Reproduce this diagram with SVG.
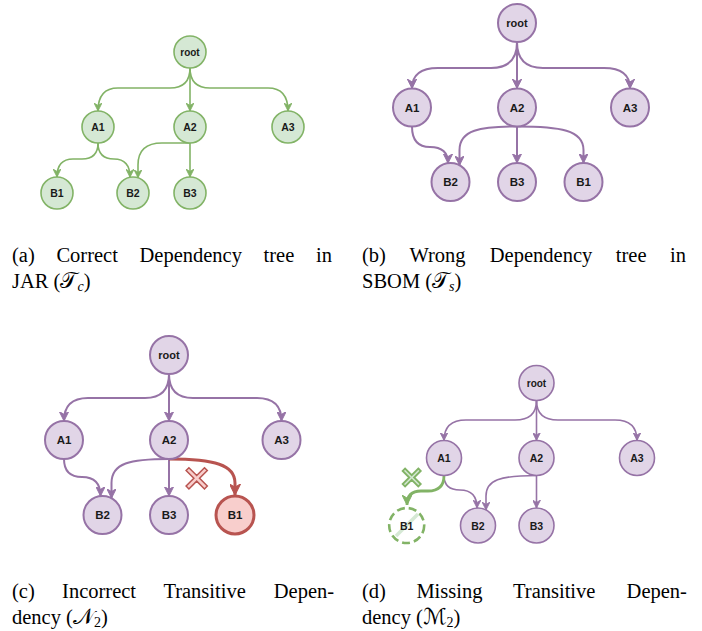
<svg xmlns="http://www.w3.org/2000/svg" width="702" height="631" viewBox="0 0 702 631">
<style>
.ng{fill:#d5e8d4;stroke:#82b366}
.np{fill:#e1d5e7;stroke:#9673a6}
.nr{fill:#f8cecc;stroke:#b85450;stroke-width:3}
.nd{fill:#ffffff;stroke:#82b366;stroke-width:2.6;stroke-dasharray:8 4}
.lbl{font-family:"Liberation Sans",Arial,Helvetica,sans-serif;font-weight:bold;fill:#1a1a1a;text-anchor:middle;dominant-baseline:central}
.eg{fill:none;stroke:#82b366}
.ep{fill:none;stroke:#9673a6}
.er{fill:none;stroke:#b85450;stroke-width:3}
.egt{fill:none;stroke:#82b366;stroke-width:2.8}
.cap{font-family:"Liberation Serif","Times New Roman",serif;font-size:20.5px;fill:#000}
.math{font-family:"DejaVu Serif","DejaVu Sans","Noto Sans",serif;font-size:22px}
.sub{font-size:14px}
</style>
<defs>
<marker id="mgs" viewBox="0 0 10 10" refX="10" refY="5" markerWidth="8" markerHeight="8" markerUnits="userSpaceOnUse" orient="auto"><path d="M0,0 L10,5 L0,10 L3,5 z" fill="#82b366" stroke="#82b366"/></marker>
<marker id="mgl" viewBox="0 0 10 10" refX="10" refY="5" markerWidth="10" markerHeight="10" markerUnits="userSpaceOnUse" orient="auto"><path d="M0,0 L10,5 L0,10 L3,5 z" fill="#82b366" stroke="#82b366"/></marker>
<marker id="mps" viewBox="0 0 10 10" refX="10" refY="5" markerWidth="8" markerHeight="8" markerUnits="userSpaceOnUse" orient="auto"><path d="M0,0 L10,5 L0,10 L3,5 z" fill="#9673a6" stroke="#9673a6"/></marker>
<marker id="mpl" viewBox="0 0 10 10" refX="10" refY="5" markerWidth="9.5" markerHeight="9.5" markerUnits="userSpaceOnUse" orient="auto"><path d="M0,0 L10,5 L0,10 L3,5 z" fill="#9673a6" stroke="#9673a6"/></marker>
<marker id="mrl" viewBox="0 0 10 10" refX="10" refY="5" markerWidth="11" markerHeight="11" markerUnits="userSpaceOnUse" orient="auto"><path d="M0,0 L10,5 L0,10 L3,5 z" fill="#b85450" stroke="#b85450"/></marker>
<polygon id="xshape" points="-2,-13 2,-13 2,-2 13,-2 13,2 2,2 2,13 -2,13 -2,2 -13,2 -13,-2 -2,-2"/>
</defs>

<!-- Panel (a) -->
<g id="panel-a" stroke-width="1.6">
<g id="a-connectors" class="eg" marker-end="url(#mgs)">
<path d="M190,68 Q190,88 170,88 L118,88 Q98,88 98,111"/>
<path d="M190,68 L190,111"/>
<path d="M190,68 Q190,88 210,88 L268,88 Q288,88 288,111"/>
<path d="M98,143 Q98,159 82,159 L73,159 Q57,159 57,177"/>
<path d="M98,143 Q98,159 114,159 Q130,159 130,177.3"/>
<path d="M190,143 L162,143 Q138,143 138,165 L138,177.8"/>
<path d="M190,143 L190,177"/>
</g>
<g id="a-root"><circle class="ng" cx="190" cy="52" r="16"/><text class="lbl" x="190" y="52" font-size="10">root</text></g>
<g id="a-A1"><circle class="ng" cx="98" cy="127" r="16"/><text class="lbl" x="98" y="127" font-size="10.5">A1</text></g>
<g id="a-A2"><circle class="ng" cx="190" cy="127" r="16"/><text class="lbl" x="190" y="127" font-size="10.5">A2</text></g>
<g id="a-A3"><circle class="ng" cx="288" cy="127" r="16"/><text class="lbl" x="288" y="127" font-size="10.5">A3</text></g>
<g id="a-B1"><circle class="ng" cx="57" cy="193" r="16"/><text class="lbl" x="57" y="193" font-size="10.5">B1</text></g>
<g id="a-B2"><circle class="ng" cx="133" cy="193" r="16"/><text class="lbl" x="133" y="193" font-size="10.5">B2</text></g>
<g id="a-B3"><circle class="ng" cx="190" cy="193" r="16"/><text class="lbl" x="190" y="193" font-size="10.5">B3</text></g>
</g>

<!-- Panel (b) -->
<g id="panel-b" stroke-width="2">
<g id="b-connectors" class="ep" marker-end="url(#mpl)">
<path d="M517,42 Q517,68 491,68 L438,68 Q412,68 412,88.5"/>
<path d="M517,42 L517,88.5"/>
<path d="M517,42 Q517,68 543,68 L604,68 Q630,68 630,88.5"/>
<path d="M412,126.5 Q412,147 430,147 Q448,147 448,163.2"/>
<path d="M517,126.5 C480,126.5 459.5,130 459.5,150 L459.5,165.3"/>
<path d="M517,126.5 C560,126.5 583.5,130 583.5,150 L583.5,163"/>
<path d="M517,126.5 L517,163"/>
</g>
<g id="b-root"><circle class="np" cx="517" cy="23" r="19"/><text class="lbl" x="517" y="23" font-size="11">root</text></g>
<g id="b-A1"><circle class="np" cx="412" cy="107.5" r="19"/><text class="lbl" x="412" y="107.5" font-size="11.5">A1</text></g>
<g id="b-A2"><circle class="np" cx="517" cy="107.5" r="19"/><text class="lbl" x="517" y="107.5" font-size="11.5">A2</text></g>
<g id="b-A3"><circle class="np" cx="630" cy="107.5" r="19"/><text class="lbl" x="630" y="107.5" font-size="11.5">A3</text></g>
<g id="b-B2"><circle class="np" cx="450.5" cy="182" r="19"/><text class="lbl" x="450.5" y="182" font-size="11.5">B2</text></g>
<g id="b-B3"><circle class="np" cx="517" cy="182" r="19"/><text class="lbl" x="517" y="182" font-size="11.5">B3</text></g>
<g id="b-B1"><circle class="np" cx="583.5" cy="182" r="19"/><text class="lbl" x="583.5" y="182" font-size="11.5">B1</text></g>
</g>

<!-- Panel (c) -->
<g id="panel-c" stroke-width="2">
<g id="c-connectors">
<g class="ep" marker-end="url(#mpl)">
<path d="M169,374 Q169,398 145,398 L88,398 Q64,398 64,421"/>
<path d="M169,374 L169,421"/>
<path d="M169,374 Q169,398 193,398 L257,398 Q281.5,398 281.5,421"/>
<path d="M64,459 Q64,477 82,477 Q100.5,477 100.5,496"/>
<path d="M169,459 C130,459 111.5,463 111.5,483 L111.5,498.2"/>
<path d="M169,459 L169,496"/>
</g>
<path class="er" d="M169,459 C215,459 235,465 235,483 L235,495" marker-end="url(#mrl)"/>
<use id="c-cross" href="#xshape" transform="translate(196.7,478.3) rotate(45)" fill="#f8cecc" stroke="#b85450" stroke-width="1.5"/>
</g>
<g id="c-root"><circle class="np" cx="169" cy="355" r="19"/><text class="lbl" x="169" y="355" font-size="11">root</text></g>
<g id="c-A1"><circle class="np" cx="64" cy="440" r="19"/><text class="lbl" x="64" y="440" font-size="11.5">A1</text></g>
<g id="c-A2"><circle class="np" cx="169" cy="440" r="19"/><text class="lbl" x="169" y="440" font-size="11.5">A2</text></g>
<g id="c-A3"><circle class="np" cx="281.5" cy="440" r="19"/><text class="lbl" x="281.5" y="440" font-size="11.5">A3</text></g>
<g id="c-B2"><circle class="np" cx="102.5" cy="515" r="19"/><text class="lbl" x="102.5" y="515" font-size="11.5">B2</text></g>
<g id="c-B3"><circle class="np" cx="169" cy="515" r="19"/><text class="lbl" x="169" y="515" font-size="11.5">B3</text></g>
<g id="c-B1"><circle class="nr" cx="235" cy="515" r="19"/><text class="lbl" x="235" y="515" font-size="11.5">B1</text></g>
</g>

<!-- Panel (d) -->
<g id="panel-d" stroke-width="1.6">
<g id="d-connectors">
<g class="ep" marker-end="url(#mps)">
<path d="M536.5,400.5 Q536.5,420 515,420 L466,420 Q444,420 444,440.5"/>
<path d="M536.5,400.5 L536.5,440.5"/>
<path d="M536.5,400.5 Q536.5,420 558,420 L615,420 Q637,420 637,440.5"/>
<path d="M444,475.5 Q444,490 460,490 Q477,490 477,508"/>
<path d="M536.5,475.5 C500,475.5 486,480 486,496 L486,510"/>
<path d="M536.5,475.5 L536.5,508"/>
</g>
<path class="egt" d="M444,475.5 Q444,491 428,491 L421,491 Q407,491 407,505" marker-end="url(#mgl)"/>
<use id="d-cross" href="#xshape" transform="translate(411.7,477.5) rotate(45) scale(0.85)" fill="#d5e8d4" stroke="#82b366" stroke-width="2.2"/>
</g>
<g id="d-root"><circle class="np" cx="536.5" cy="383" r="17.5"/><text class="lbl" x="536.5" y="383" font-size="10">root</text></g>
<g id="d-A1"><circle class="np" cx="444" cy="458" r="17.5"/><text class="lbl" x="444" y="458" font-size="10.5">A1</text></g>
<g id="d-A2"><circle class="np" cx="536.5" cy="458" r="17.5"/><text class="lbl" x="536.5" y="458" font-size="10.5">A2</text></g>
<g id="d-A3"><circle class="np" cx="637" cy="458" r="17.5"/><text class="lbl" x="637" y="458" font-size="10.5">A3</text></g>
<g id="d-B1"><circle class="nd" cx="406.7" cy="525.5" r="17.5"/><line x1="396" y1="536" x2="418" y2="514" stroke="#d5e8d4" stroke-width="3.5"/><text class="lbl" x="406.7" y="525.5" font-size="10.5">B1</text></g>
<g id="d-B2"><circle class="np" cx="478" cy="525.5" r="17.5"/><text class="lbl" x="478" y="525.5" font-size="10.5">B2</text></g>
<g id="d-B3"><circle class="np" cx="536.5" cy="525.5" r="17.5"/><text class="lbl" x="536.5" y="525.5" font-size="10.5">B3</text></g>
</g>

<!-- Captions -->
<g id="captions" class="cap">
<text y="262"><tspan x="12">(a)</tspan><tspan x="56.4">Correct</tspan><tspan x="139.5">Dependency</tspan><tspan x="263.6">tree</tspan><tspan x="316">in</tspan></text>
<text x="12" y="288">JAR (<tspan class="math">𝒯</tspan><tspan class="sub" font-style="italic" dy="3">c</tspan><tspan dy="-3">)</tspan></text>
<text y="262"><tspan x="362">(b)</tspan><tspan x="409.4">Wrong</tspan><tspan x="489.8">Dependency</tspan><tspan x="615.8">tree</tspan><tspan x="670">in</tspan></text>
<text x="362" y="288">SBOM (<tspan class="math">𝒯</tspan><tspan class="sub" font-style="italic" dy="3">s</tspan><tspan dy="-3">)</tspan></text>
<text y="597.5"><tspan x="12">(c)</tspan><tspan x="62.1">Incorrect</tspan><tspan x="163.4">Transitive</tspan><tspan x="273.8">Depen-</tspan></text>
<text x="12" y="623.5">dency (<tspan class="math">𝒩</tspan><tspan class="sub" dy="3">2</tspan><tspan dy="-3">)</tspan></text>
<text y="597.5"><tspan x="362">(d)</tspan><tspan x="416.4">Missing</tspan><tspan x="513">Transitive</tspan><tspan x="626.6">Depen-</tspan></text>
<text x="362" y="623.5">dency (<tspan class="math">ℳ</tspan><tspan class="sub" dy="3">2</tspan><tspan dy="-3">)</tspan></text>
</g>
</svg>
